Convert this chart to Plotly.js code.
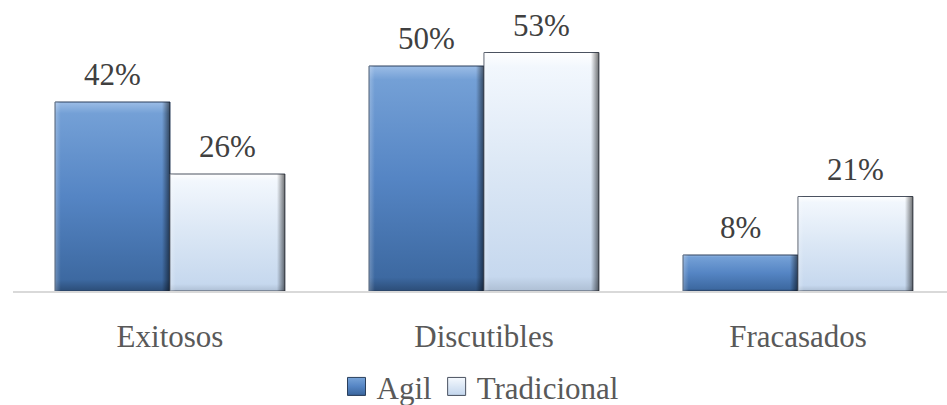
<!DOCTYPE html>
<html>
<head>
<meta charset="utf-8">
<script src="https://cdn.plot.ly/plotly-3.0.1.min.js"></script>
<style>
  html, body { margin: 0; padding: 0; background: #ffffff; overflow: hidden; }
  #preload { height: 0; overflow: visible; font-family: 'Liberation Serif'; font-size: 20px; color: #ffffff; line-height: 0; }
  #chart { width: 947px; height: 405px; }
  #chart svg text { font-family: 'Liberation Serif', serif !important; }
</style>
</head>
<body>
<div id="preload">a</div>
<div id="chart"></div>
<script>
// ---- data ----
const categories = ['Exitosos', 'Discutibles', 'Fracasados'];
const agilValues = [42, 50, 8];
const tradicionalValues = [26, 53, 21];
const seriesNames = ['Agil', 'Tradicional'];

// ---- layout constants ----
const BARGAP = 0.268;
const halfBar = (1 - BARGAP) / 4; // centre offset of each bar in the group
const FONT = 'Liberation Serif';
const FS = 31;

const fmt = v => v + '%';

const traces = [
  {
    type: 'bar', name: seriesNames[0], x: categories, y: agilValues,
    marker: { color: '#4f81bd', line: { color: '#2a3f5c', width: 1 } },
    hoverinfo: 'skip'
  },
  {
    type: 'bar', name: seriesNames[1], x: categories, y: tradicionalValues,
    marker: { color: '#d6e3f3', line: { color: '#4a5260', width: 1 } },
    hoverinfo: 'skip'
  }
];

const annotations = [];
[agilValues, tradicionalValues].forEach((vals, s) => {
  vals.forEach((v, i) => {
    annotations.push({
      x: i + (s === 0 ? -halfBar : halfBar), y: v, xref: 'x', yref: 'y',
      text: fmt(v), showarrow: false, yanchor: 'bottom', yshift: 8,
      font: { family: FONT, size: FS, color: '#404040' }
    });
  });
});

const layout = {
  width: 947, height: 405,
  margin: { l: 13, r: 0, t: 0, b: 114, pad: 0 },
  paper_bgcolor: 'rgba(255,255,255,0)', plot_bgcolor: 'rgba(255,255,255,0)',
  barmode: 'group', bargap: BARGAP, bargroupgap: 0,
  font: { family: FONT, size: FS, color: '#595959' },
  xaxis: {
    type: 'category', range: [-0.5, 2.4745],
    showline: true, linecolor: '#d9d9d9', linewidth: 2,
    showgrid: false, zeroline: false, ticks: '',
    ticklabelstandoff: 17,
    tickfont: { family: FONT, size: FS, color: '#595959' }
  },
  yaxis: {
    range: [0, 64.67], visible: false, showgrid: false, zeroline: false
  },
  showlegend: true,
  legend: {
    orientation: 'h', x: 0.5, xanchor: 'center', xref: 'paper',
    y: 0.045, yanchor: 'middle', yref: 'container',
    bgcolor: 'rgba(255,255,255,0)',
    font: { family: FONT, size: FS, color: '#595959' },
    itemclick: false, itemdoubleclick: false, tracegroupgap: 0
  },
  annotations: annotations
};

function decorate(gd) {
  const ns = 'http://www.w3.org/2000/svg';
  const svg = gd.querySelector('svg.main-svg');
  let defs = svg.querySelector('defs');
  if (!defs) { defs = document.createElementNS(ns, 'defs'); svg.insertBefore(defs, svg.firstChild); }
  defs.querySelectorAll('.customgrad').forEach(n => n.remove());
  function grad(id, stops, horiz) {
    const g = document.createElementNS(ns, 'linearGradient');
    g.setAttribute('id', id);
    g.setAttribute('class', 'customgrad');
    g.setAttribute('x1', '0'); g.setAttribute('y1', '0');
    g.setAttribute('x2', horiz ? '1' : '0'); g.setAttribute('y2', horiz ? '0' : '1');
    stops.forEach(([o, c, a]) => {
      const s = document.createElementNS(ns, 'stop');
      s.setAttribute('offset', o); s.setAttribute('stop-color', c);
      s.setAttribute('stop-opacity', a === undefined ? 1 : a);
      g.appendChild(s);
    });
    defs.appendChild(g);
  }
  grad('gAgil', [['0', '#9cbde6'], ['0.06', '#74a0d6'], ['0.5', '#5585c4'], ['0.94', '#3d69a1'], ['1', '#2c4d78']]);
  grad('gTrad', [['0', '#ffffff'], ['0.06', '#f2f7fd'], ['0.5', '#dbe7f5'], ['0.94', '#c6d8ee'], ['1', '#aebfd4']]);
  grad('gEdge', [['0', '#ffffff', 0.25], ['0.05', '#ffffff', 0], ['0.93', '#000000', 0], ['1', '#000000', 0.55]], true);
  const ids = ['gAgil', 'gTrad'];
  gd.querySelectorAll('.barlayer .trace').forEach((tr, i) => {
    tr.querySelectorAll('path').forEach(p => {
      p.style.fill = 'url(#' + ids[i] + ')';
      const c = p.cloneNode(true);
      c.style.fill = 'url(#gEdge)';
      c.style.stroke = 'none';
      p.parentNode.appendChild(c);
    });
  });
  gd.querySelectorAll('.legend .traces').forEach((tr, i) => {
    tr.querySelectorAll('.legendpoints path').forEach(p => {
      p.setAttribute('d', 'M9,9H-9V-9H9Z');
      p.style.fill = 'url(#' + ids[i] + ')';
    });
  });
}

function draw() {
  return Plotly.newPlot('chart', traces, layout, { staticPlot: true, displayModeBar: false }).then(decorate);
}

draw();
if (document.fonts && document.fonts.ready) {
  document.fonts.ready.then(() => setTimeout(draw, 30));
}
</script>
</body>
</html>
